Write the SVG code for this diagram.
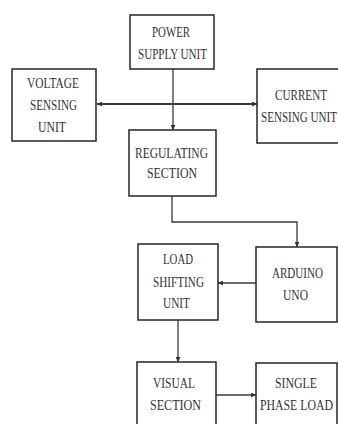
<svg xmlns="http://www.w3.org/2000/svg" width="338" height="424" viewBox="0 0 338 424">
<style>
.box{fill:#fff;stroke:#262626;stroke-width:1.5}
.t{font-family:"Liberation Serif","Times New Roman",serif;font-size:14px;fill:#333}
.c{fill:none;stroke:#3a3a3a;stroke-width:1.3}
.h{fill:none;stroke:#3a3a3a;stroke-width:2}
</style>
<defs>
<marker id="ah" viewBox="0 0 10 10" refX="10" refY="5" markerWidth="5" markerHeight="5" orient="auto-start-reverse" markerUnits="userSpaceOnUse">
<path d="M0,0 L10,5 L0,10 z" fill="#333"/>
</marker>
</defs>
<rect width="338" height="424" fill="#fff"/>
<g id="connectors">
<line class="c" x1="173" y1="69" x2="173" y2="130" marker-end="url(#ah)"/>
<line class="h" x1="97" y1="104" x2="257" y2="104" marker-start="url(#ah)" marker-end="url(#ah)"/>
<polyline class="c" points="172,196 172,222 297,222 297,247" marker-end="url(#ah)"/>
<line class="c" x1="256" y1="283" x2="218" y2="283" marker-end="url(#ah)"/>
<line class="c" x1="178" y1="320" x2="178" y2="362" marker-end="url(#ah)"/>
<line class="c" x1="216" y1="395" x2="256" y2="395" marker-end="url(#ah)"/>
</g>
<g id="power">
<rect class="box" x="130" y="15" width="84" height="54"/>
<text class="t" transform="translate(152 37) scale(0.75 1)" textLength="50.7" lengthAdjust="spacingAndGlyphs">POWER</text>
<text class="t" transform="translate(138 59) scale(0.75 1)" textLength="92" lengthAdjust="spacingAndGlyphs">SUPPLY UNIT</text>
</g>
<g id="voltage">
<rect class="box" x="12" y="69" width="84" height="72"/>
<text class="t" transform="translate(27 88) scale(0.75 1)" textLength="69.3" lengthAdjust="spacingAndGlyphs">VOLTAGE</text>
<text class="t" transform="translate(30 110) scale(0.75 1)" textLength="62.7" lengthAdjust="spacingAndGlyphs">SENSING</text>
<text class="t" transform="translate(38 132) scale(0.75 1)" textLength="37.3" lengthAdjust="spacingAndGlyphs">UNIT</text>
</g>
<g id="current">
<rect class="box" x="257" y="69" width="90" height="74"/>
<text class="t" transform="translate(275 100) scale(0.75 1)" textLength="69.3" lengthAdjust="spacingAndGlyphs">CURRENT</text>
<text class="t" transform="translate(261 122) scale(0.75 1)" textLength="101.3" lengthAdjust="spacingAndGlyphs">SENSING UNIT</text>
</g>
<g id="regulating">
<rect class="box" x="129" y="130" width="87" height="66"/>
<text class="t" transform="translate(135 158) scale(0.75 1)" textLength="97.3" lengthAdjust="spacingAndGlyphs">REGULATING</text>
<text class="t" transform="translate(147 178) scale(0.75 1)" textLength="66.7" lengthAdjust="spacingAndGlyphs">SECTION</text>
</g>
<g id="load">
<rect class="box" x="138" y="244" width="80" height="76"/>
<text class="t" transform="translate(163 264) scale(0.75 1)" textLength="40" lengthAdjust="spacingAndGlyphs">LOAD</text>
<text class="t" transform="translate(153 287) scale(0.75 1)" textLength="68" lengthAdjust="spacingAndGlyphs">SHIFTING</text>
<text class="t" transform="translate(163 308) scale(0.75 1)" textLength="36" lengthAdjust="spacingAndGlyphs">UNIT</text>
</g>
<g id="arduino">
<rect class="box" x="256" y="247" width="81" height="75"/>
<text class="t" transform="translate(272 278) scale(0.75 1)" textLength="68" lengthAdjust="spacingAndGlyphs">ARDUINO</text>
<text class="t" transform="translate(283 300) scale(0.75 1)" textLength="33.3" lengthAdjust="spacingAndGlyphs">UNO</text>
</g>
<g id="visual">
<rect class="box" x="137" y="362" width="79" height="70"/>
<text class="t" transform="translate(153 388) scale(0.75 1)" textLength="56" lengthAdjust="spacingAndGlyphs">VISUAL</text>
<text class="t" transform="translate(150 410) scale(0.75 1)" textLength="68" lengthAdjust="spacingAndGlyphs">SECTION</text>
</g>
<g id="single">
<rect class="box" x="256" y="363" width="81" height="70"/>
<text class="t" transform="translate(275 388) scale(0.75 1)" textLength="56" lengthAdjust="spacingAndGlyphs">SINGLE</text>
<text class="t" transform="translate(260 410) scale(0.75 1)" textLength="97.3" lengthAdjust="spacingAndGlyphs">PHASE LOAD</text>
</g>
</svg>
